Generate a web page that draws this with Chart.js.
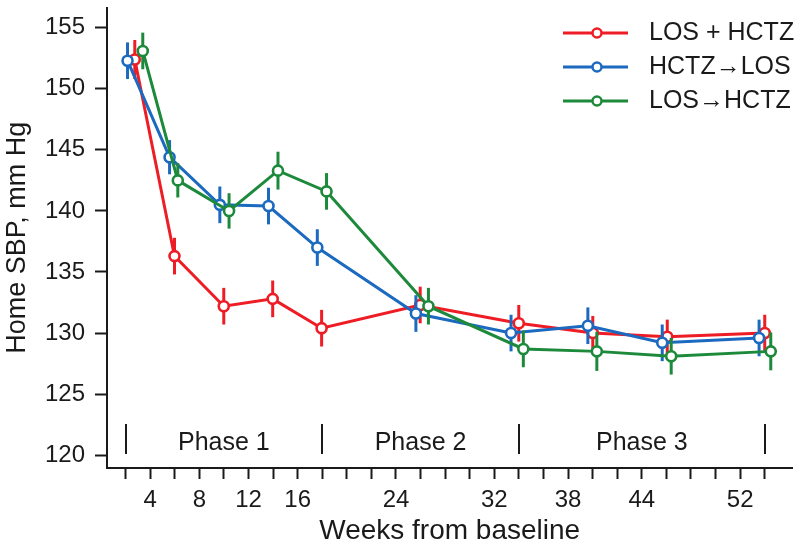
<!DOCTYPE html>
<html>
<head>
<meta charset="utf-8">
<script src="https://cdn.jsdelivr.net/npm/chart.js@4.4.1/dist/chart.umd.min.js"></script>
<style>
  html, body { margin: 0; padding: 0; background: #fff; }
  #wrap { width: 800px; height: 547px; }
</style>
</head>
<body>
<div id="wrap"><canvas id="sbpChart"></canvas></div>
<script>
// series (weeks are slightly jittered per group, like the original)
const seriesNames = ['LOS + HCTZ', 'HCTZ\u2192LOS', 'LOS\u2192HCTZ'];

const weeksCombo = [2.75, 5.98, 9.99, 13.97, 17.95, 25.97, 33.99, 40.01, 46.07, 54.0];
const sbpCombo   = [152.4, 136.3, 132.2, 132.8, 130.4, 132.3, 130.8, 130.0, 129.7, 130.0];
const errCombo   = [1.6, 1.5, 1.5, 1.5, 1.5, 1.5, 1.5, 1.4, 1.4, 1.5];

const weeksHctzFirst = [2.16, 5.58, 9.67, 13.63, 17.6, 25.62, 33.36, 39.61, 45.66, 53.54];
const sbpHctzFirst   = [152.3, 144.4, 140.5, 140.4, 137.0, 131.6, 130.0, 130.6, 129.2, 129.6];
const errHctzFirst   = [1.5, 1.4, 1.5, 1.5, 1.5, 1.5, 1.5, 1.5, 1.5, 1.5];

const weeksLosFirst = [3.4, 6.25, 10.42, 14.4, 18.35, 26.64, 34.36, 40.34, 46.39, 54.49];
const sbpLosFirst   = [153.1, 142.5, 140.0, 143.3, 141.6, 132.2, 128.7, 128.5, 128.1, 128.5];
const errLosFirst   = [1.5, 1.4, 1.45, 1.55, 1.5, 1.5, 1.5, 1.6, 1.5, 1.55];

const xTickLabels = [4, 8, 12, 16, 24, 32, 38, 44, 52];
const xMinorTicks = [2, 4, 6, 8, 10, 12, 14, 16, 18, 20, 22, 24, 26, 28, 30, 32, 34, 36, 38, 40, 42, 44, 46, 48, 50, 52, 54];
const yTicks = [120, 125, 130, 135, 140, 145, 150, 155];

const phaseNames = ['Phase 1', 'Phase 2', 'Phase 3'];
const phaseBounds = [2, 18, 34, 54];

const colors = ['#ee1c25', '#1b6ac0', '#1d8a3b'];
const ink = '#1a1a1a';
const fontFamily = '"Liberation Sans", Arial, Helvetica, sans-serif';

Chart.defaults.font.family = fontFamily;
Chart.defaults.color = ink;

function pairs(xs, ys) {
  return xs.map((x, i) => ({ x: x, y: ys[i] }));
}

function seriesDataset(i, xs, ys, errs) {
  return {
    label: seriesNames[i],
    data: pairs(xs, ys),
    err: errs,
    order: 2 - i,
    borderColor: colors[i],
    backgroundColor: colors[i],
    borderWidth: 3,
    tension: 0,
    pointRadius: 5,
    pointBorderWidth: 2.6,
    pointBackgroundColor: '#fff',
    pointBorderColor: colors[i],
  };
}

// vertical SE bars, drawn right before each line so its own markers sit on top
const errorBars = {
  id: 'errorBars',
  beforeDatasetDraw(chart, args) {
    const ds = chart.data.datasets[args.index];
    const yScale = chart.scales.y;
    const ctx = chart.ctx;
    ctx.save();
    ctx.strokeStyle = ds.borderColor;
    ctx.lineWidth = 3;
    args.meta.data.forEach(function (pt, i) {
      const v = ds.data[i].y;
      const e = ds.err[i];
      ctx.beginPath();
      ctx.moveTo(pt.x, yScale.getPixelForValue(v + e));
      ctx.lineTo(pt.x, yScale.getPixelForValue(v - e));
      ctx.stroke();
    });
    ctx.restore();
  },
};

const phaseMarks = {
  id: 'phaseMarks',
  afterDraw(chart) {
    const ctx = chart.ctx;
    const x = chart.scales.x;
    const bottom = chart.chartArea.bottom;
    ctx.save();
    ctx.strokeStyle = ink;
    ctx.lineWidth = 2;
    phaseBounds.forEach(function (w) {
      const px = Math.round(x.getPixelForValue(w));
      ctx.beginPath();
      ctx.moveTo(px, bottom - 44);
      ctx.lineTo(px, bottom - 14);
      ctx.stroke();
    });
    ctx.fillStyle = ink;
    ctx.font = '25px ' + fontFamily;
    ctx.textAlign = 'center';
    ctx.textBaseline = 'middle';
    phaseNames.forEach(function (name, i) {
      const mid = (phaseBounds[i] + phaseBounds[i + 1]) / 2;
      ctx.fillText(name, x.getPixelForValue(mid), bottom - 25);
    });
    ctx.restore();
  },
};

const keyBox = {
  id: 'keyBox',
  afterDraw(chart) {
    const ctx = chart.ctx;
    ctx.save();
    seriesNames.forEach(function (name, i) {
      const yy = 33 + i * 34;
      ctx.strokeStyle = colors[i];
      ctx.lineWidth = 3;
      ctx.beginPath();
      ctx.moveTo(563, yy);
      ctx.lineTo(628, yy);
      ctx.stroke();
      ctx.beginPath();
      ctx.arc(597, yy, 4.5, 0, Math.PI * 2);
      ctx.fillStyle = '#fff';
      ctx.fill();
      ctx.lineWidth = 2.5;
      ctx.stroke();
      ctx.fillStyle = ink;
      ctx.font = '25px ' + fontFamily;
      ctx.textAlign = 'left';
      ctx.textBaseline = 'middle';
      ctx.fillText(name, 649, yy);
    });
    ctx.restore();
  },
};

new Chart(document.getElementById('sbpChart'), {
  type: 'line',
  data: {
    datasets: [
      seriesDataset(0, weeksCombo, sbpCombo, errCombo),
      seriesDataset(1, weeksHctzFirst, sbpHctzFirst, errHctzFirst),
      seriesDataset(2, weeksLosFirst, sbpLosFirst, errLosFirst),
    ],
  },
  options: {
    responsive: true,
    maintainAspectRatio: false,
    animation: false,
    layout: { padding: { top: 0, right: 2, bottom: 0, left: 0 } },
    plugins: {
      legend: { display: false },
      tooltip: { enabled: false },
    },
    scales: {
      x: {
        type: 'linear',
        min: 0.49,
        max: 56.25,
        afterBuildTicks: function (s) {
          s.ticks = xMinorTicks.map(v => ({ value: v }));
        },
        afterFit: function (s) {
          s.height = 79;
          s.paddingLeft = 0;
          s.paddingRight = 0;
        },
        ticks: {
          autoSkip: false,
          maxRotation: 0,
          padding: 7,
          font: { size: 24 },
          callback: v => (xTickLabels.indexOf(v) >= 0 ? String(v) : ''),
        },
        grid: { drawOnChartArea: false, tickLength: 11, tickWidth: 2, color: ink },
        border: { color: ink, width: 2 },
        title: {
          display: true,
          text: 'Weeks from baseline',
          font: { size: 28, lineHeight: 1.1 },
          padding: 0,
        },
      },
      y: {
        min: 118.95,
        max: 156.65,
        afterBuildTicks: function (s) {
          s.ticks = yTicks.map(v => ({ value: v }));
        },
        afterFit: function (s) {
          s.width = 107;
          s.paddingTop = 0;
          s.paddingBottom = 0;
        },
        ticks: { padding: 10, font: { size: 24 } },
        grid: { drawOnChartArea: false, tickLength: 12, tickWidth: 2, color: ink },
        border: { color: ink, width: 2 },
        title: {
          display: true,
          text: 'Home SBP, mm Hg',
          font: { size: 27, lineHeight: 1.1 },
          padding: { top: 3, bottom: 0 },
        },
      },
    },
  },
  plugins: [errorBars, phaseMarks, keyBox],
});
</script>
</body>
</html>
